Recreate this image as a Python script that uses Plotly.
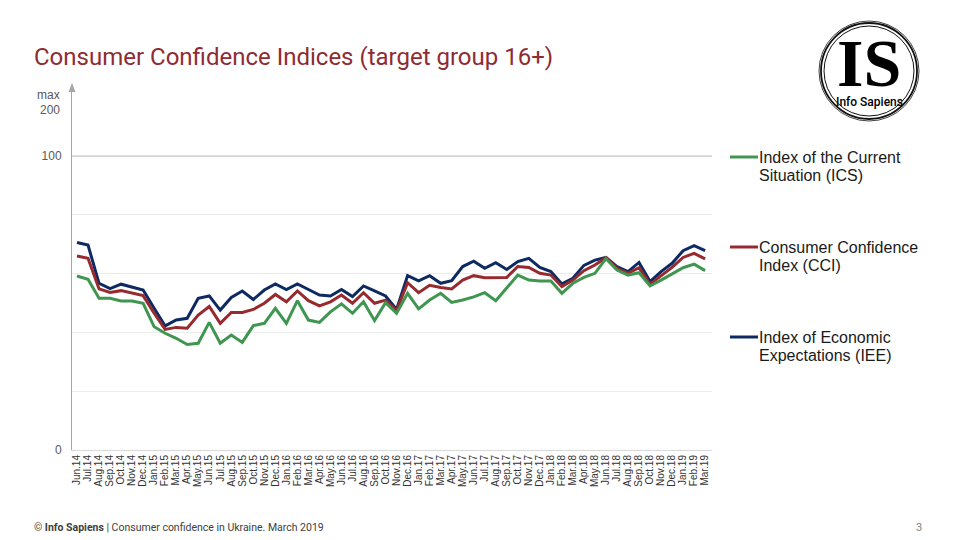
import plotly.graph_objects as go

months = ["Jun.14","Jul.14","Aug.14","Sep.14","Oct.14","Nov.14","Dec.14",
          "Jan.15","Feb.15","Mar.15","Apr.15","May.15","Jun.15","Jul.15","Aug.15","Sep.15","Oct.15","Nov.15","Dec.15",
          "Jan.16","Feb.16","Mar.16","Apr.16","May.16","Jun.16","Jul.16","Aug.16","Sep.16","Oct.16","Nov.16","Dec.16",
          "Jan.17","Feb.17","Mar.17","Apr.17","May.17","Jun.17","Jul.17","Aug.17","Sep.17","Oct.17","Nov.17","Dec.17",
          "Jan.18","Feb.18","Mar.18","Apr.18","May.18","Jun.18","Jul.18","Aug.18","Sep.18","Oct.18","Nov.18","Dec.18",
          "Jan.19","Feb.19","Mar.19"]

ics = [59.2, 58.1, 51.6, 51.6, 50.7, 50.7, 49.9,
       41.9, 39.7, 38.0, 35.9, 36.3, 43.4, 36.3, 39.1, 36.6, 42.3, 43.1, 48.2,
       43.1, 50.8, 44.2, 43.4, 47.0, 49.7, 46.5, 50.4, 44.0, 50.1, 46.5, 53.3,
       48.0, 51.0, 53.3, 50.2, 51.0, 52.1, 53.5, 50.8, 55.0, 59.5, 57.8, 57.5,
       57.5, 53.3, 56.7, 58.7, 60.1, 65.1, 61.2, 59.5, 60.3, 55.8, 57.8, 59.8,
       62.0, 63.2, 61.0]

cci = [66.0, 65.2, 54.8, 53.6, 54.2, 53.3, 52.5,
       46.5, 41.0, 41.7, 41.4, 45.9, 48.8, 43.1, 46.8, 46.8, 47.8, 49.9, 52.9,
       50.4, 54.1, 50.8, 49.0, 50.4, 52.7, 49.9, 53.5, 49.9, 51.0, 47.4, 56.9,
       53.5, 56.0, 55.3, 54.8, 57.8, 59.3, 58.6, 58.6, 58.7, 62.4, 62.1, 60.1,
       59.5, 55.6, 57.8, 61.0, 62.9, 65.4, 61.8, 60.1, 62.0, 56.4, 59.2, 62.1,
       65.5, 66.9, 65.0]

iee = [70.6, 69.7, 56.7, 54.9, 56.4, 55.3, 54.4,
       48.2, 42.2, 44.2, 44.8, 51.6, 52.4, 47.6, 51.9, 54.1, 51.2, 54.4, 56.5,
       54.6, 56.5, 54.6, 52.7, 52.4, 54.6, 52.2, 55.8, 54.1, 52.4, 47.8, 59.3,
       57.5, 59.3, 56.7, 57.6, 62.4, 64.2, 61.8, 63.7, 61.4, 64.1, 65.2, 62.1,
       60.7, 56.5, 58.4, 62.8, 64.6, 65.5, 62.4, 60.7, 63.8, 57.3, 60.7, 63.5,
       67.8, 69.5, 67.8]

legend_lines = [["Index of the Current", "Situation (ICS)"],
                ["Consumer Confidence", "Index (CCI)"],
                ["Index of Economic", "Expectations (IEE)"]]
colors = ["#3F9650", "#962A2E", "#0E2A62"]

# page offset (browser body margin)
O = 8
W, H = 960 - O, 540 - O
L, R, T, B = 72, 712, 88, 450   # plot area in page pixels


def px(x):
    return (x - L) / (R - L)


def py(y):
    return (B - y) / (B - T)


xs = list(range(len(months)))
fig = go.Figure()
for vals, lines, col in [(iee, legend_lines[2], colors[2]),
                         (cci, legend_lines[1], colors[1]),
                         (ics, legend_lines[0], colors[0])]:
    fig.add_trace(go.Scatter(x=xs, y=vals, mode="lines", name=" ".join(lines),
                             line=dict(color=col, width=3), showlegend=False))

step = 11.02
x0 = -(77 - L) / step
x1 = x0 + (R - L) / step
ytop = 100 * (B - T) / (B - 156)

fig.update_layout(
    width=W, height=H,
    margin=dict(l=L - O, r=W - (R - O), t=T - O, b=H - (B - O)),
    paper_bgcolor="white", plot_bgcolor="white",
    font=dict(family="Liberation Sans, Arial, sans-serif", color="#333333"),
    title=dict(text="Consumer Confidence Indices (target group 16+)",
               x=(34 - O) / W, xanchor="left", xref="container",
               y=1 - (57 - O) / H, yanchor="middle", yref="container",
               font=dict(family="Roboto", size=24, color="#8E2B33")),
    xaxis=dict(range=[x0, x1], tickmode="array", tickvals=xs, ticktext=months,
               tickangle=-90, tickfont=dict(size=10, color="#333333"),
               showgrid=False, zeroline=False, showline=True,
               linecolor="#d9d9d9", linewidth=1, ticks=""),
    yaxis=dict(range=[0, ytop], tickmode="array",
               tickvals=[0, 20, 40, 60, 80, 100],
               ticktext=["0", "", "", "", "", "100"],
               tickfont=dict(size=12, color="#595959", family="Liberation Sans"),
               showgrid=True, gridcolor="#ececec", gridwidth=1,
               zeroline=False, showline=True, linecolor="#a6a6a6", linewidth=1,
               ticks="", ticklabelstandoff=7),
)

shapes = []
shapes.append(dict(type="line", xref="paper", yref="y", x0=0, x1=1, y0=100, y1=100,
                   line=dict(color="#bfbfbf", width=1)))
shapes.append(dict(type="path", xref="paper", yref="paper",
                   path=f"M {px(68.5)} {py(92)} L {px(75.5)} {py(92)} L {px(72)} {py(83)} Z",
                   fillcolor="#a6a6a6", line=dict(width=0)))

annotations = [
    dict(text="max", x=px(62), y=py(95), xref="paper", yref="paper",
         xanchor="right", yanchor="middle", showarrow=False,
         font=dict(size=12, color="#595959", family="Liberation Sans")),
    dict(text="200", x=px(62), y=py(110), xref="paper", yref="paper",
         xanchor="right", yanchor="middle", showarrow=False,
         font=dict(size=12, color="#595959", family="Liberation Sans")),
]

leg_y = [157, 247, 337]
for lines, col, yy in zip(legend_lines, colors, leg_y):
    shapes.append(dict(type="line", xref="paper", yref="paper",
                       x0=px(730), x1=px(758), y0=py(yy), y1=py(yy),
                       line=dict(color=col, width=3)))
    for k, t in enumerate(lines):
        annotations.append(dict(text=t, x=px(757), y=py(yy + 18 * k), xref="paper", yref="paper",
                                xanchor="left", yanchor="middle", showarrow=False,
                                font=dict(size=16, color="#1a1a1a", family="Liberation Sans")))

# logo
cx, cy, r = 869, 71, 48
for dr, w in [(0, 1.8), (-3, 1.0), (2, 0.8)]:
    rr = r + dr
    shapes.append(dict(type="circle", xref="paper", yref="paper",
                       x0=px(cx - rr), x1=px(cx + rr), y0=py(cy + rr), y1=py(cy - rr),
                       line=dict(color="#111111", width=w)))
annotations.append(dict(text="<b>IS</b>", x=px(cx), y=py(63), xref="paper", yref="paper",
                        xanchor="center", yanchor="middle", showarrow=False,
                        font=dict(size=68, color="#000000", family="Liberation Serif")))
annotations.append(dict(text="Info Sapiens", x=px(cx), y=py(102), xref="paper", yref="paper",
                        xanchor="center", yanchor="middle", showarrow=False,
                        font=dict(size=12, color="#000000", family="Roboto", weight=500)))

annotations.append(dict(text="© <b>Info Sapiens</b> | Consumer confidence in Ukraine. March 2019",
                        x=px(32), y=py(527), xref="paper", yref="paper",
                        xanchor="left", yanchor="middle", showarrow=False,
                        font=dict(size=10.5, color="#404040", family="Roboto")))
annotations.append(dict(text="3", x=px(924), y=py(527), xref="paper", yref="paper",
                        xanchor="right", yanchor="middle", showarrow=False,
                        font=dict(size=11, color="#808080", family="Roboto")))

fig.update_layout(shapes=shapes, annotations=annotations)
fig.write_html("out.html")
